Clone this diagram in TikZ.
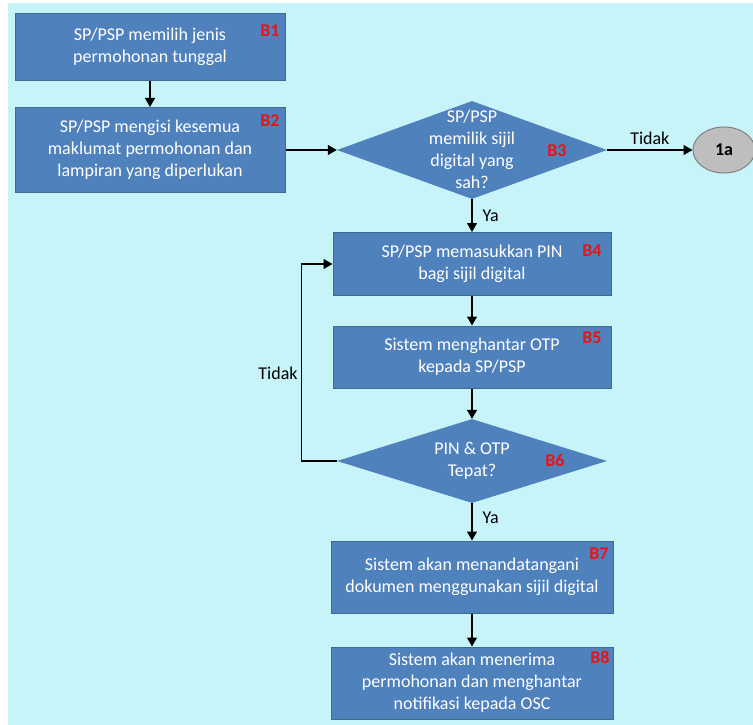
\documentclass[tikz,border=0pt]{standalone}
\usepackage{fontspec}
\setmainfont{Carlito}
\usetikzlibrary{shapes.geometric, arrows.meta}
\definecolor{bgcyan}{RGB}{198,244,248}
\definecolor{boxblue}{RGB}{79,129,189}
\definecolor{boxline}{RGB}{62,106,150}
\definecolor{tagred}{RGB}{232,20,20}
\definecolor{circgrey}{RGB}{190,190,190}

\begin{document}
\begin{tikzpicture}
  [
   x=1pt, y=-1pt,
   font=\fontsize{18}{22}\selectfont,
   stepbox/.style={rectangle, fill=boxblue, draw=boxline, line width=1pt,
                   text=white, align=center, inner sep=0pt,
                   minimum width=280pt, minimum height=63pt},
   decide/.style={diamond, fill=boxblue, inner sep=0pt,
                  minimum width=270pt, minimum height=98pt},
   dtext/.style={text=white, align=center, inner sep=0pt},
   tag/.style={text=tagred, font=\fontsize{18}{22}\selectfont\bfseries, inner sep=0pt},
   arr/.style={-{Triangle[width=10pt,length=9pt]}, line width=1.2pt, black},
   lbl/.style={text=black, inner sep=0pt}
  ]
  % latar
  \useasboundingbox (0,0) rectangle (753,725);
  \fill[white] (0,0) rectangle (753,725);
  \fill[bgcyan] (8,3) rectangle (753,725);

  % kotak langkah
  \node[stepbox, minimum width=270pt, minimum height=67pt] (b1) at (150,47)
       {SP/PSP memilih jenis\\permohonan tunggal};
  \node[stepbox, minimum width=270pt, minimum height=85pt] (b2) at (150,150)
       {SP/PSP mengisi kesemua\\maklumat permohonan dan\\lampiran yang diperlukan};
  \node[decide] (b3) at (472,150) {};
  \node[dtext] (b3t) at (472,149) {SP/PSP\\memilik sijil\\digital yang\\sah?};
  \node[ellipse, fill=circgrey, draw=gray, line width=1pt, minimum width=62pt,
        minimum height=46pt, inner sep=0pt, font=\fontsize{18}{22}\selectfont\bfseries] (oneA) at (724,150) {1a};
  \node[stepbox, minimum width=278pt] (b4) at (472,264)
       {SP/PSP memasukkan PIN\\bagi sijil digital};
  \node[stepbox, minimum width=278pt, minimum height=62pt] (b5) at (472,357)
       {Sistem menghantar OTP\\kepada SP/PSP};
  \node[decide, minimum height=84pt] (b6) at (472,461) {};
  \node[dtext] (b6t) at (472,461) {PIN \& OTP\\Tepat?};
  \node[stepbox, minimum width=282pt, minimum height=72pt] (b7) at (472,577)
       {Sistem akan menandatangani\\dokumen menggunakan sijil digital};
  \node[stepbox, minimum width=282pt, minimum height=72pt] (b8) at (472,683)
       {Sistem akan menerima\\permohonan dan menghantar\\notifikasi kepada OSC};

  % label merah
  \node[tag] (lb1) at (270,31) {B1};
  \node[tag] (lb2) at (270,121) {B2};
  \node[tag] (lb3) at (557,151) {B3};
  \node[tag] (lb4) at (592,251) {B4};
  \node[tag] (lb5) at (592,338) {B5};
  \node[tag] (lb6) at (555,460) {B6};
  \node[tag] (lb7) at (599,554) {B7};
  \node[tag] (lb8) at (600,657) {B8};

  % anak panah
  \draw[arr] (b1) -- (b2);
  \draw[arr] (b2.east) -- (b3.west);
  \draw[arr] (b3.east) -- node (tidak1) [lbl, above=5pt] {Tidak} (oneA.west);
  \draw[arr] (b3.south) -- node (ya1) [lbl, right=10pt] {Ya} (b4.north);
  \draw[arr] (b4) -- (b5);
  \draw[arr] (b5) -- (b6.north);
  \draw[arr] (b6.south) -- node (ya2) [lbl, right=10pt, pos=0.4] {Ya} (b7.north);
  \draw[arr] (b7) -- (b8);
  \draw[arr] (b6.west) -- ++(-35,0) |- (b4.west);
  \node[lbl] (tidak2) at (278,373) {Tidak};
\end{tikzpicture}
\end{document}
